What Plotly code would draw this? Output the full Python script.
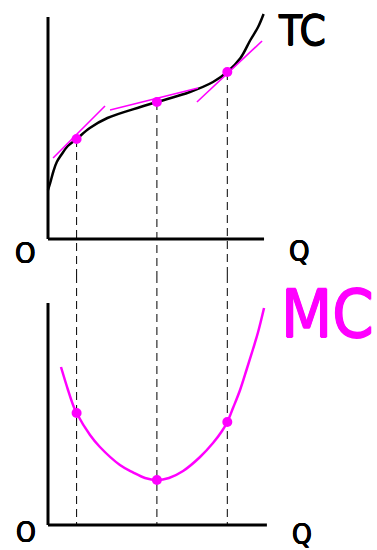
import plotly.graph_objects as go

# ---- data -------------------------------------------------------------
# total cost curve (output Q, total cost TC)
tc_q = [0.0, 0.1, 0.25, 0.4, 0.6, 0.9, 1.3, 1.9, 2.7, 4.2, 4.95, 6.45, 7.5, 8.15, 8.75, 9.2, 9.55, 9.8]
tc_v = [24.5, 28, 34, 38.5, 42, 46.5, 50, 55.5, 60.5, 66, 68.5, 73.5, 78.5, 83.5, 90.5, 99.5, 106, 112.5]

# marginal cost curve (output Q, marginal cost MC)
mc_q = [0.59, 0.91, 1.14, 1.3, 1.91, 2.36, 3.27, 3.86, 4.41, 4.95, 5.5, 6.14, 6.91, 7.5, 7.91, 8.15,
        8.41, 8.73, 9.05, 9.32, 9.55, 9.82]
mc_v = [79, 67.5, 60, 56, 45, 39, 30, 26.3, 23.5, 22.5, 23.5, 27, 34, 41, 47, 51.5,
        58.5, 67.5, 78.5, 88, 96.5, 108.5]

# three highlighted output levels
mark_q = [1.3, 4.95, 8.15]
mark_tc = [50, 68.5, 83.5]
mark_mc = [56, 22.5, 51.5]

# tangent segments to TC at the highlighted outputs: (q0, tc0) -> (q1, tc1)
tangent_q0 = [0.23, 2.82, 6.77]
tangent_tc0 = [40.5, 64.5, 68.5]
tangent_q1 = [2.59, 6.82, 9.73]
tangent_tc1 = [66.5, 75.5, 99.0]

# axis extents
top_axis_q = 9.82
top_axis_tc = 111
bot_axis_q = 9.95
bot_axis_mc = 111

# ---- styling ----------------------------------------------------------
W, H = 377, 550
MAGENTA = "#ff00ff"
FONT = "DejaVu Sans Condensed, DejaVu Sans, sans-serif"

X_RANGE = [-48 / 22, 329 / 22]
TOP_RANGE = [-18, 119.5]
BOT_RANGE = [-12.5, 125]


def heavier(color, d):
    """Thin text-shadow ring that thickens glyph strokes slightly."""
    return ", ".join(f"{dx}px {dy}px 0 {color}" for dx, dy in [(d, 0), (-d, 0), (0, d), (0, -d)])


fig = go.Figure()

# TC curve
fig.add_trace(go.Scatter(x=tc_q, y=tc_v, mode="lines",
                         line=dict(color="black", width=2.5, shape="spline", smoothing=1),
                         xaxis="x", yaxis="y", hoverinfo="skip"))
# tangent lines
for q0, v0, q1, v1 in zip(tangent_q0, tangent_tc0, tangent_q1, tangent_tc1):
    fig.add_trace(go.Scatter(x=[q0, q1], y=[v0, v1], mode="lines", line=dict(color=MAGENTA, width=1.6),
                             xaxis="x", yaxis="y", hoverinfo="skip"))
# TC points
fig.add_trace(go.Scatter(x=mark_q, y=mark_tc, mode="markers", marker=dict(color=MAGENTA, size=10),
                         xaxis="x", yaxis="y", hoverinfo="skip"))

# MC curve
fig.add_trace(go.Scatter(x=mc_q, y=mc_v, mode="lines",
                         line=dict(color=MAGENTA, width=2.5, shape="spline", smoothing=1),
                         xaxis="x", yaxis="y2", hoverinfo="skip"))
fig.add_trace(go.Scatter(x=mark_q, y=mark_mc, mode="markers", marker=dict(color=MAGENTA, size=10),
                         xaxis="x", yaxis="y2", hoverinfo="skip"))

shapes = []
dash = "8px,5px"
# vertical guides from each TC point down to the lower Q axis
for q, v in zip(mark_q, mark_tc):
    shapes.append(dict(type="line", xref="x", yref="y", x0=q, x1=q, y0=v, y1=TOP_RANGE[0],
                       line=dict(color="black", width=1, dash=dash), layer="below"))
    shapes.append(dict(type="line", xref="x", yref="y2", x0=q, x1=q, y0=BOT_RANGE[1], y1=0,
                       line=dict(color="black", width=1, dash=dash), layer="below"))

# axes of both panels
ax = dict(color="black", width=3)
shapes += [
    dict(type="line", xref="x", yref="y", x0=0, x1=0, y0=0, y1=top_axis_tc, line=ax),
    dict(type="line", xref="x", yref="y", x0=0, x1=top_axis_q, y0=0, y1=0, line=ax),
    dict(type="line", xref="x", yref="y2", x0=0, x1=0, y0=0, y1=bot_axis_mc, line=ax),
    dict(type="line", xref="x", yref="y2", x0=0, x1=bot_axis_q, y0=0, y1=0, line=ax),
]

annotations = [
    dict(text="TC", x=302 / W, y=1 - 30 / H, yanchor="middle",
         font=dict(size=42, color="black", shadow=heavier("black", 0.5))),
    dict(text="O", x=25 / W, y=1 - 253 / H, yanchor="middle",
         font=dict(size=29, color="black", shadow=heavier("black", 0.4))),
    dict(text="Q", x=299 / W, y=1 - 251 / H, yanchor="middle",
         font=dict(size=29, color="black", shadow=heavier("black", 0.4))),
    dict(text="MC", x=327 / W, y=1 - 314 / H, yanchor="middle",
         font=dict(size=66, color=MAGENTA, shadow=heavier(MAGENTA, 0.8))),
    dict(text="O", x=26 / W, y=0, yanchor="bottom",
         font=dict(size=28, color="black", shadow=heavier("black", 0.4))),
    dict(text="Q", x=302 / W, y=1 - 534 / H, yanchor="middle",
         font=dict(size=28, color="black", shadow=heavier("black", 0.4))),
]
for a in annotations:
    a.update(xref="paper", yref="paper", xanchor="center", showarrow=False, borderpad=0)
    a["font"].update(family=FONT)

hidden = dict(visible=False, fixedrange=True)
fig.update_layout(
    width=W, height=H, autosize=False,
    margin=dict(l=0, r=0, t=0, b=0, pad=0),
    paper_bgcolor="white", plot_bgcolor="white",
    showlegend=False,
    xaxis=dict(range=X_RANGE, domain=[0, 1], **hidden),
    yaxis=dict(range=TOP_RANGE, domain=[0.5, 1], **hidden),
    yaxis2=dict(range=BOT_RANGE, domain=[0, 0.5], **hidden),
    shapes=shapes,
    annotations=annotations,
)

fig.write_html("out.html", config=dict(displayModeBar=False))
